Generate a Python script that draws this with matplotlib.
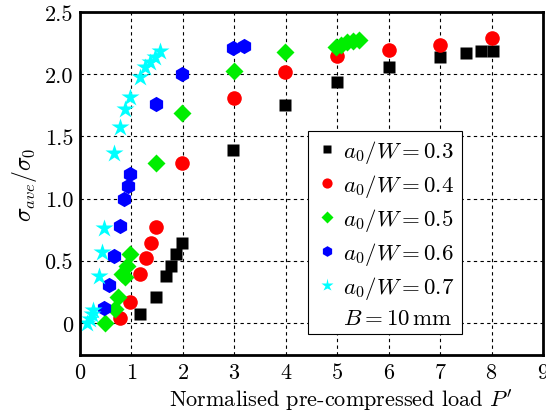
import matplotlib
matplotlib.use('Agg')
import matplotlib.pyplot as plt
from matplotlib.lines import Line2D

plt.rcParams['font.family'] = 'serif'
plt.rcParams['font.serif'] = ['cmr10']
plt.rcParams['mathtext.fontset'] = 'cm'
plt.rcParams['axes.unicode_minus'] = False
plt.rcParams['axes.formatter.use_mathtext'] = True

# a0/W = 0.3
x03 = [1.17, 1.48, 1.68, 1.77, 1.86, 1.98, 2.98, 3.99, 5.0, 6.0, 7.0, 7.5, 7.8, 8.02]
y03 = [0.07, 0.21, 0.38, 0.46, 0.55, 0.64, 1.39, 1.75, 1.94, 2.06, 2.14, 2.17, 2.19, 2.19]
# a0/W = 0.4
x04 = [0.78, 0.97, 1.17, 1.28, 1.38, 1.48, 1.99, 2.99, 3.99, 5.0, 6.0, 7.0, 8.01]
y04 = [0.04, 0.17, 0.39, 0.52, 0.64, 0.77, 1.29, 1.81, 2.02, 2.15, 2.20, 2.24, 2.29]
# a0/W = 0.5
x05 = [0.49, 0.68, 0.73, 0.81, 0.87, 0.92, 0.98, 1.48, 1.99, 2.99, 3.99, 4.98, 5.08, 5.19, 5.31, 5.42]
y05 = [0.0, 0.11, 0.21, 0.39, 0.37, 0.46, 0.55, 1.29, 1.69, 2.03, 2.18, 2.22, 2.24, 2.26, 2.27, 2.28]
# a0/W = 0.6
x06 = [0.47, 0.57, 0.67, 0.78, 0.86, 0.93, 0.98, 1.48, 1.99, 2.98, 3.18]
y06 = [0.12, 0.30, 0.54, 0.78, 1.0, 1.10, 1.20, 1.76, 2.0, 2.21, 2.23]
# a0/W = 0.7
x07 = [0.13, 0.19, 0.23, 0.26, 0.36, 0.42, 0.47, 0.67, 0.78, 0.87, 0.97, 1.17, 1.26, 1.36, 1.46, 1.55]
y07 = [0.0, 0.03, 0.07, 0.10, 0.38, 0.57, 0.76, 1.37, 1.58, 1.72, 1.82, 1.98, 2.06, 2.10, 2.14, 2.19]

fig = plt.figure(figsize=(5.46, 4.14), dpi=100)
ax = fig.add_axes([0.1465, 0.14, 0.848, 0.828])

ax.plot(x03, y03, 's', color='black', ms=9, mec='none', label=r'$a_0/W = 0.3$')
ax.plot(x04, y04, 'o', color='red', ms=10.5, mec='none', label=r'$a_0/W = 0.4$')
ax.plot(x05, y05, 'D', color='#00ee00', ms=9, mec='none', label=r'$a_0/W = 0.5$')
ax.plot(x06, y06, 'h', color='blue', ms=11, mec='none', label=r'$a_0/W = 0.6$')
ax.plot(x07, y07, '*', color='cyan', ms=13.5, mec='none', label=r'$a_0/W = 0.7$')

handles, labels = ax.get_legend_handles_labels()
handles.append(Line2D([], [], linestyle='none'))
labels.append(r'$B = 10\,\mathrm{mm}$')
leg = ax.legend(handles, labels, loc='lower left', bbox_to_anchor=(0.492, 0.06),
                fontsize=16.5, fancybox=False, framealpha=1, edgecolor='black',
                handletextpad=0.15, borderpad=0.3, labelspacing=0.3, handlelength=1.1,
                borderaxespad=0, markerscale=0.7)
leg.get_frame().set_linewidth(0.8)

ax.set_xlim(0, 9)
ax.set_ylim(-0.26, 2.5)
ax.set_xticks(range(10))
ax.set_yticks([0, 0.5, 1.0, 1.5, 2.0, 2.5])
ax.set_yticklabels(['0', '0.5', '1.0', '1.5', '2.0', '2.5'])
ax.grid(True, color='black', linestyle=(0, (3, 3)), linewidth=0.8)
ax.set_axisbelow(True)
for s in ax.spines.values():
    s.set_linewidth(2)
ax.tick_params(labelsize=16, length=0, pad=5)

ax.set_xlabel(r"Normalised pre-compressed load $P'$", fontsize=16)
ax.xaxis.set_label_coords(0.563, -0.092)
ax.set_ylabel(r'$\sigma_{ave}/\sigma_0$', fontsize=17, labelpad=4)

fig.savefig('out.png', dpi=100)
